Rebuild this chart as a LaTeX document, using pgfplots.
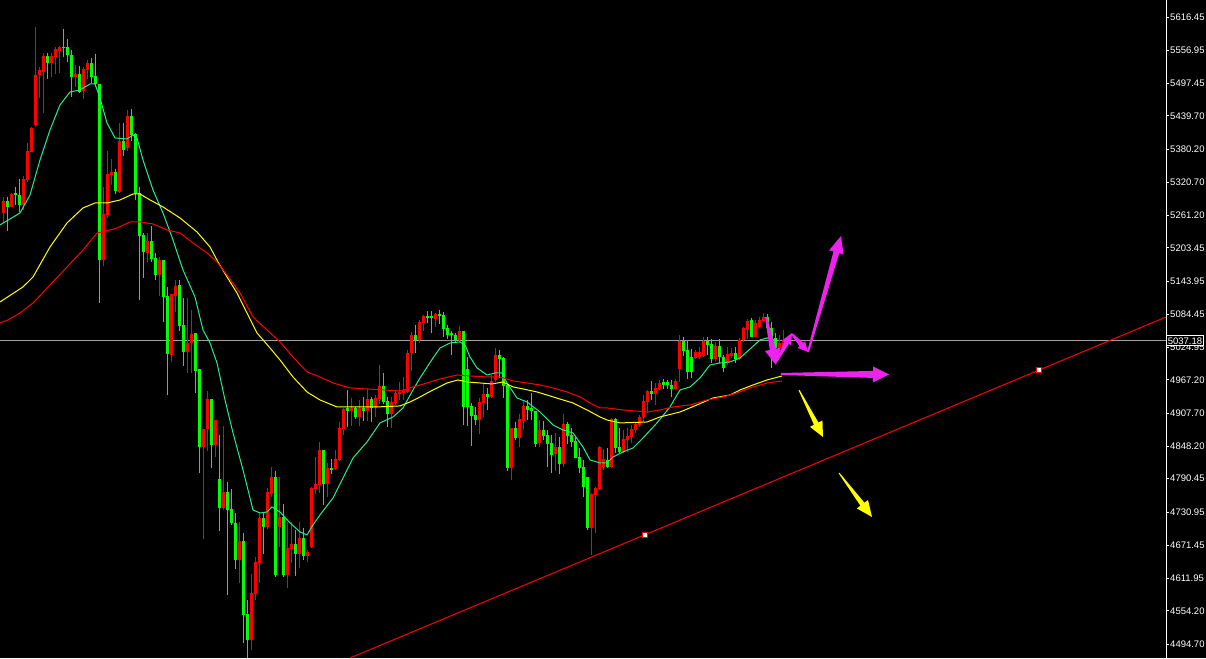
\documentclass[border=0pt]{standalone}
\usepackage{fontspec}
\setmainfont{Liberation Sans}
\usepackage{pgfplots}
\usepackage{pgfplotstable}
\pgfplotsset{compat=1.18}
\usetikzlibrary{calc}

\definecolor{candleup}{HTML}{FF0000}
\definecolor{candledn}{HTML}{00FF00}
\definecolor{mafast}{HTML}{20F08C}
\definecolor{mamid}{HTML}{FFFF00}
\definecolor{maslow}{HTML}{FF0000}
\definecolor{pricegray}{HTML}{A0A0A0}
\definecolor{arrowmag}{HTML}{EE22EE}
\definecolor{arrowyel}{HTML}{FFFF00}

% red = rising candle, green = falling candle (x in px, prices)
\pgfplotstableread{
x o h l c
3.5 5265.8 5294.5 5248.0 5287.3
11.5 5276.6 5301.6 5276.6 5299.8
23.5 5280.2 5332.0 5271.2 5326.7
27.5 5324.9 5391.1 5321.3 5376.8
31.5 5375.0 5419.7 5375.0 5417.9
35.5 5423.3 5598.6 5419.7 5512.7
39.5 5512.7 5527.0 5471.6 5521.7
43.5 5518.1 5552.1 5444.7 5546.7
51.5 5534.2 5552.1 5509.1 5546.7
55.5 5544.9 5562.8 5514.5 5559.2
59.5 5555.7 5564.6 5516.3 5562.8
75.5 5509.1 5530.6 5491.3 5514.5
83.5 5484.1 5527.0 5469.8 5523.5
87.5 5521.7 5539.6 5505.6 5534.2
103.5 5181.8 5312.4 5171.0 5264.1
107.5 5262.3 5376.8 5256.9 5335.6
111.5 5333.8 5362.4 5315.9 5339.2
119.5 5303.4 5426.9 5301.6 5394.7
127.5 5382.1 5450.1 5376.8 5439.4
147.5 5194.3 5230.1 5178.2 5215.8
159.5 5154.9 5187.1 5117.4 5181.8
171.5 5011.8 5120.9 4999.3 5120.9
175.5 5117.4 5146.0 5088.7 5135.2
187.5 5017.2 5113.8 4979.6 5033.3
191.5 5033.3 5092.3 4979.6 5049.4
203.5 4847.2 4879.4 4682.6 4879.4
207.5 4879.4 4947.4 4840.1 4933.1
215.5 4850.8 4895.5 4829.3 4895.5
223.5 4738.1 4884.8 4734.5 4766.7
239.5 4645.1 4713.0 4603.9 4679.1
251.5 4501.9 4620.0 4484.0 4586.0
255.5 4584.2 4650.4 4573.5 4641.5
259.5 4639.7 4729.1 4603.9 4720.2
267.5 4704.1 4773.9 4700.5 4766.7
271.5 4763.1 4811.4 4757.8 4793.5
279.5 4704.1 4793.5 4668.3 4722.0
287.5 4618.2 4713.0 4595.0 4666.5
291.5 4664.7 4713.0 4639.7 4673.7
299.5 4655.8 4713.0 4630.7 4684.4
307.5 4652.2 4662.9 4641.5 4659.4
311.5 4668.3 4775.7 4666.5 4773.9
315.5 4772.1 4829.3 4763.1 4781.0
319.5 4779.2 4856.2 4764.9 4841.8
327.5 4781.0 4818.6 4757.8 4809.6
335.5 4807.9 4841.8 4806.1 4825.7
339.5 4824.0 4891.9 4822.2 4881.2
343.5 4879.4 4917.0 4868.7 4915.2
351.5 4911.6 4934.9 4884.8 4917.0
359.5 4900.9 4931.3 4884.8 4917.0
367.5 4911.6 4951.0 4893.7 4933.1
375.5 4917.0 4940.2 4900.9 4934.9
379.5 4933.1 4993.9 4924.1 4956.3
391.5 4906.3 4936.7 4881.2 4927.7
395.5 4925.9 4949.2 4922.4 4943.8
399.5 4942.0 4963.5 4931.3 4945.6
403.5 4943.8 4972.4 4931.3 4949.2
407.5 4945.6 5020.7 4943.8 5015.4
411.5 5015.4 5052.9 4983.2 5047.6
419.5 5038.6 5074.4 5033.3 5070.8
423.5 5069.1 5083.4 5054.7 5081.6
435.5 5076.2 5086.9 5061.9 5085.2
459.5 5038.6 5063.7 5035.1 5054.7
479.5 4895.5 4934.9 4870.5 4927.7
483.5 4925.9 4959.9 4900.9 4942.0
491.5 4936.7 4976.0 4934.9 4965.3
495.5 4967.1 5024.3 4963.5 5011.8
511.5 4809.6 4881.2 4788.2 4881.2
519.5 4863.3 4906.3 4847.2 4897.3
523.5 4893.7 4931.3 4877.6 4920.6
539.5 4854.4 4895.5 4847.2 4877.6
555.5 4834.7 4872.3 4804.3 4847.2
563.5 4816.8 4906.3 4811.4 4888.4
591.5 4702.3 4764.9 4654.0 4763.1
595.5 4761.3 4775.7 4693.4 4773.9
599.5 4772.1 4849.0 4770.3 4847.2
603.5 4811.4 4843.6 4806.1 4825.7
611.5 4811.4 4899.1 4809.6 4897.3
623.5 4838.3 4877.6 4836.5 4861.5
627.5 4859.7 4881.2 4838.3 4866.9
631.5 4865.1 4886.6 4854.4 4879.4
635.5 4877.6 4891.9 4872.3 4888.4
639.5 4886.6 4904.5 4883.0 4900.9
643.5 4900.9 4940.2 4891.9 4929.5
647.5 4927.7 4949.2 4908.0 4947.4
655.5 4942.0 4961.7 4922.4 4952.8
659.5 4951.0 4967.1 4949.2 4961.7
675.5 4951.0 4968.9 4949.2 4965.3
679.5 4986.8 5047.6 4963.5 5036.9
695.5 5006.4 5020.7 5004.6 5017.2
699.5 5008.2 5026.1 5004.6 5017.2
703.5 5010.0 5044.0 5008.2 5036.9
715.5 5004.6 5035.1 5001.1 5027.9
727.5 4997.5 5026.1 4993.9 5013.6
731.5 5010.0 5024.3 5006.4 5015.4
739.5 5004.6 5042.2 5002.9 5038.6
743.5 5038.6 5061.9 5035.1 5060.1
747.5 5056.5 5076.2 5040.4 5072.6
755.5 5044.0 5074.4 5044.0 5069.1
759.5 5061.9 5079.8 5060.1 5074.4
763.5 5072.6 5086.9 5070.8 5079.8
779.5 5024.3 5047.6 5020.7 5033.3
783.5 5027.9 5056.5 5026.1 5038.6
}\upc

\pgfplotstableread{
x o h l c
7.5 5287.3 5294.5 5233.6 5276.6
15.5 5301.6 5312.4 5280.2 5298.0
19.5 5298.0 5326.7 5267.6 5280.2
47.5 5546.7 5552.1 5505.6 5534.2
63.5 5562.8 5595.0 5544.9 5561.0
67.5 5562.8 5577.1 5536.0 5548.5
71.5 5548.5 5557.4 5473.4 5509.1
79.5 5514.5 5528.8 5480.5 5482.3
91.5 5534.2 5543.1 5498.4 5509.1
95.5 5510.9 5550.3 5491.3 5496.6
99.5 5496.6 5496.6 5104.8 5181.8
115.5 5339.2 5344.6 5299.8 5305.2
123.5 5394.7 5426.9 5367.8 5378.5
131.5 5439.4 5451.9 5394.7 5405.4
135.5 5407.2 5409.0 5289.1 5299.8
139.5 5301.6 5312.4 5110.2 5224.7
143.5 5226.5 5230.1 5149.6 5196.1
151.5 5215.8 5242.6 5178.2 5183.5
155.5 5185.3 5194.3 5146.0 5154.9
163.5 5181.8 5181.8 5070.8 5115.6
167.5 5117.4 5133.5 4940.2 5013.6
179.5 5137.0 5146.0 5054.7 5063.7
183.5 5065.5 5113.8 4992.1 5017.2
195.5 5051.2 5051.2 4943.8 4983.2
199.5 4986.8 4986.8 4800.7 4847.2
211.5 4933.1 4933.1 4809.6 4850.8
219.5 4790.0 4868.7 4696.9 4738.1
227.5 4766.7 4784.6 4582.4 4734.5
231.5 4736.3 4772.1 4707.7 4711.3
235.5 4711.3 4729.1 4628.9 4645.1
243.5 4679.1 4693.4 4496.6 4546.7
247.5 4548.5 4573.5 4469.7 4501.9
263.5 4720.2 4729.1 4655.8 4704.1
275.5 4793.5 4804.3 4614.6 4618.2
283.5 4722.0 4745.2 4614.6 4618.2
295.5 4673.7 4698.7 4616.4 4655.8
303.5 4684.4 4702.3 4645.1 4652.2
323.5 4841.8 4841.8 4743.5 4781.0
331.5 4809.6 4825.7 4798.9 4806.1
347.5 4917.0 4949.2 4883.0 4911.6
355.5 4917.0 4918.8 4897.3 4900.9
363.5 4917.0 4936.7 4893.7 4911.6
371.5 4933.1 4936.7 4891.9 4917.0
383.5 4956.3 4979.6 4924.1 4927.7
387.5 4929.5 4936.7 4883.0 4906.3
415.5 5047.6 5065.5 5015.4 5038.6
427.5 5081.6 5090.5 5069.1 5078.0
431.5 5081.6 5090.5 5051.2 5078.0
439.5 5085.2 5092.3 5067.3 5081.6
443.5 5083.4 5088.7 5044.0 5058.3
447.5 5060.1 5065.5 5040.4 5047.6
451.5 5051.2 5054.7 5011.8 5047.6
455.5 5047.6 5051.2 5033.3 5038.6
463.5 5054.7 5054.7 4886.6 4918.8
467.5 4986.8 5008.2 4884.8 4918.8
471.5 4920.6 4925.9 4849.0 4902.7
475.5 4904.5 4918.8 4886.6 4895.5
487.5 4942.0 4952.8 4913.4 4936.7
499.5 5011.8 5020.7 4970.7 5004.6
503.5 5006.4 5008.2 4934.9 4956.3
507.5 4958.1 4961.7 4804.3 4809.6
515.5 4881.2 4891.9 4859.7 4863.3
527.5 4920.6 4931.3 4895.5 4913.4
531.5 4917.0 4943.8 4895.5 4911.6
535.5 4911.6 4911.6 4847.2 4852.6
543.5 4877.6 4893.7 4859.7 4866.9
547.5 4868.7 4877.6 4811.4 4852.6
551.5 4854.4 4868.7 4800.7 4832.9
559.5 4847.2 4865.1 4798.9 4816.8
567.5 4888.4 4891.9 4852.6 4866.9
571.5 4868.7 4881.2 4847.2 4856.2
575.5 4858.0 4865.1 4827.5 4827.5
579.5 4829.3 4845.4 4800.7 4809.6
583.5 4811.4 4824.0 4757.8 4775.7
587.5 4793.5 4793.5 4698.7 4702.3
607.5 4824.0 4845.4 4809.6 4811.4
615.5 4897.3 4899.1 4836.5 4845.4
619.5 4847.2 4881.2 4836.5 4838.3
651.5 4947.4 4965.3 4931.3 4942.0
663.5 4963.5 4968.9 4951.0 4958.1
667.5 4963.5 4967.1 4951.0 4958.1
671.5 4958.1 4967.1 4936.7 4951.0
683.5 5036.9 5044.0 5010.0 5019.0
687.5 5020.7 5036.9 4968.9 4981.4
691.5 5008.2 5022.5 4970.7 4981.4
707.5 5036.9 5044.0 5011.8 5029.7
711.5 5031.5 5040.4 4997.5 5004.6
719.5 5027.9 5040.4 4997.5 5008.2
723.5 5008.2 5011.8 4981.4 4988.5
735.5 5015.4 5026.1 4997.5 5004.6
751.5 5074.4 5078.0 5044.0 5044.0
767.5 5079.8 5085.2 5056.5 5060.1
771.5 5060.1 5070.8 4988.5 5035.1
775.5 5042.2 5051.2 5017.2 5024.3
}\dnc

% wedge arrow: colour, tail, tip, tail half width, shaft half width, head half width, head length
\newcommand{\warrow}[7]{%
  \coordinate (wA) at #2; \coordinate (wB) at #3;
  \coordinate (wH) at ($(wB)!#7!(wA)$);
  \fill[#1] ($(wA)!#4!90:(wB)$) -- ($(wH)!#5!-90:(wA)$) -- ($(wH)!#6!-90:(wA)$) -- (wB)
    -- ($(wH)!#6!90:(wA)$) -- ($(wH)!#5!90:(wA)$) -- ($(wA)!#4!-90:(wB)$) -- cycle;}

\pgfplotsset{candle/.style={only marks, mark=*, mark size=0pt,
  mark options={draw=none, fill=none},
  error bars/.cd, y dir=minus, y explicit, error mark=none}}

\begin{document}
\begin{tikzpicture}
\fill[black] (0,0) rectangle (1206pt,658pt);
\begin{axis}[
  at={(0,0)}, anchor=south west, scale only axis,
  width=1166pt, height=658pt,
  xmin=0, xmax=1166, ymin=4469.65, ymax=5646.86,
  axis x line=none, axis y line*=right,
  axis line style={white, line width=1pt},
  scaled y ticks=false,
  ytick={5616.45,5556.95,5497.45,5439.70,5380.20,5320.70,5261.20,5203.45,5143.95,5084.45,5024.95,4967.20,4907.70,4848.20,4790.45,4730.95,4671.45,4611.95,4554.20,4494.70},
  yticklabels={5616.45,5556.95,5497.45,5439.70,5380.20,5320.70,5261.20,5203.45,5143.95,5084.45,5024.95,4967.20,4907.70,4848.20,4790.45,4730.95,4671.45,4611.95,4554.20,4494.70},
  yticklabel style={font=\fontsize{9.5}{10}\selectfont, text=white, inner sep=0pt, anchor=west, xshift=1pt},
  tick align=outside, major tick length=3pt,
  tick style={white, line width=0.8pt},
]
% current price line and trend line
\addplot[pricegray, line width=1pt] coordinates {(0,5037.18) (1166,5037.18)};
\addplot[candleup, line width=1pt] coordinates {(350,4469.65) (1166,5079.72)};
\addplot[only marks, mark=square*, mark size=2.4pt, mark options={fill=white, draw=red, line width=0.9pt}]
  coordinates {(645,4690.2) (1039,4984.75)};
% wicks
\addplot[candle, error bar style={candleup, line width=1pt}]
  table[x=x, y=h, y error minus expr=\thisrow{h}-\thisrow{l}] {\upc};
\addplot[candle, error bar style={candledn, line width=1pt}]
  table[x=x, y=h, y error minus expr=\thisrow{h}-\thisrow{l}] {\dnc};
% bodies
\addplot[candle, error bar style={candleup, line width=3pt}]
  table[x=x, y=c, y error minus expr={max(\thisrow{c}-\thisrow{o},1.6)}] {\upc};
\addplot[candle, error bar style={candledn, line width=3pt}]
  table[x=x, y=o, y error minus expr={max(\thisrow{o}-\thisrow{c},1.6)}] {\dnc};
% moving averages
\addplot[mafast, line width=1pt] coordinates {(0,5244.4) (20,5265.8) (30,5298.0) (40,5360.7) (50,5414.3) (60,5459.1) (70,5482.3) (80,5485.9) (90,5496.6) (95,5496.6) (100,5471.6) (107,5426.9) (115,5400.0) (127,5398.2) (133,5405.4) (137,5400.0) (143,5360.7) (153,5307.0) (163,5265.8) (173,5217.5) (183,5163.9) (195,5115.6) (203,5056.5) (210,5033.3) (217,4997.5) (225,4931.3) (233,4872.3) (243,4806.1) (253,4734.5) (260,4729.1) (267,4730.9) (272,4739.9) (280,4730.9) (290,4711.3) (300,4695.2) (307,4689.8) (313,4707.7) (320,4725.6) (333,4756.0) (347,4806.1) (353,4827.5) (367,4856.2) (380,4890.2) (393,4900.9) (403,4917.0) (413,4949.2) (420,4970.7) (433,5006.4) (440,5024.3) (450,5033.3) (460,5035.1) (465,5029.7) (470,5008.2) (477,4988.5) (487,4976.0) (495,4979.6) (502,4979.6) (507,4961.7) (517,4934.9) (527,4927.7) (540,4909.8) (553,4886.6) (563,4877.6) (573,4872.3) (583,4847.2) (590,4824.0) (600,4818.6) (607,4818.6) (613,4829.3) (623,4838.3) (633,4845.4) (643,4863.3) (657,4890.2) (670,4918.8) (680,4949.2) (690,4954.6) (700,4970.7) (710,4993.9) (720,4997.5) (730,4999.3) (740,5006.4) (750,5022.5) (760,5038.6) (767,5042.2) (773,5038.6) (777,5038.6)};
\addplot[mamid, line width=1pt] coordinates {(0,5106.6) (23,5133.5) (33,5151.3) (50,5205.0) (67,5248.0) (83,5274.8) (95,5283.7) (107,5283.7) (120,5289.1) (133,5299.8) (140,5299.8) (150,5289.1) (163,5276.6) (180,5256.9) (197,5231.9) (210,5205.0) (218,5178.2) (227,5151.3) (237,5122.7) (247,5086.9) (257,5051.2) (270,5024.3) (280,5002.9) (293,4972.4) (307,4945.6) (320,4931.3) (337,4918.8) (377,4918.8) (400,4920.6) (410,4927.7) (420,4936.7) (433,4949.2) (447,4961.7) (458,4967.1) (467,4963.5) (480,4961.7) (492,4959.9) (503,4963.5) (513,4954.6) (523,4951.0) (537,4945.6) (550,4938.5) (563,4931.3) (573,4925.9) (587,4913.4) (600,4900.9) (607,4895.5) (620,4890.2) (647,4891.9) (660,4900.9) (680,4909.8) (697,4922.4) (713,4934.9) (730,4940.2) (740,4949.2) (753,4958.1) (767,4967.1) (782,4974.2)};
\addplot[maslow, line width=1pt] coordinates {(0,5069.1) (8,5074.4) (20,5086.9) (33,5104.8) (50,5137.0) (67,5169.2) (83,5199.6) (97,5230.1) (103,5231.9) (117,5239.0) (130,5249.7) (140,5249.7) (153,5246.2) (167,5235.4) (180,5230.1) (193,5212.2) (207,5194.3) (217,5178.2) (227,5154.9) (240,5122.7) (253,5079.8) (267,5056.5) (280,5035.1) (293,5008.2) (307,4981.4) (320,4972.4) (333,4961.7) (350,4952.8) (383,4949.2) (400,4947.4) (413,4954.6) (427,4961.7) (440,4968.9) (457,4976.0) (470,4974.2) (487,4972.4) (500,4972.4) (513,4965.3) (527,4961.7) (540,4958.1) (553,4952.8) (567,4945.6) (580,4936.7) (590,4925.9) (600,4917.0) (607,4917.0) (623,4913.4) (647,4909.8) (660,4913.4) (673,4918.8) (690,4922.4) (707,4931.3) (723,4936.7) (737,4943.8) (750,4952.8) (767,4961.7) (782,4965.3)};
\end{axis}
% current price box
\node[anchor=west, fill=black, draw=white, line width=0.7pt, inner xsep=1.5pt, inner ysep=1.5pt,
  text height=7pt, text depth=0pt, text=white, font=\fontsize{9.5}{10}\selectfont] at (1166pt,317.2pt) {5037.18};
% hand-drawn arrows (pixel coordinates, y downward)
\begin{scope}[x=1pt, y=-1pt, shift={(0pt,658pt)}]
\warrow{arrowyel}{(799,390)}{(823,437)}{0.5pt}{2.5pt}{7pt}{15pt}
\warrow{arrowyel}{(839,473)}{(872,517)}{0.5pt}{2.5pt}{7pt}{16pt}
\warrow{arrowmag}{(781,374)}{(889,374.5)}{1pt}{3.5pt}{8pt}{16pt}
\warrow{arrowmag}{(808,352)}{(841,236)}{1pt}{3pt}{7.5pt}{17pt}
\warrow{arrowmag}{(766,317)}{(776,365)}{1pt}{3pt}{8pt}{16pt}
\warrow{arrowmag}{(776,362)}{(792,333)}{1pt}{2.5pt}{5pt}{11pt}
\warrow{arrowmag}{(792,334)}{(808,352)}{1pt}{2.5pt}{5pt}{10pt}
\end{scope}
\pgfresetboundingbox
\path[use as bounding box] (0,0) rectangle (1206pt,658pt);
\end{tikzpicture}
\end{document}
